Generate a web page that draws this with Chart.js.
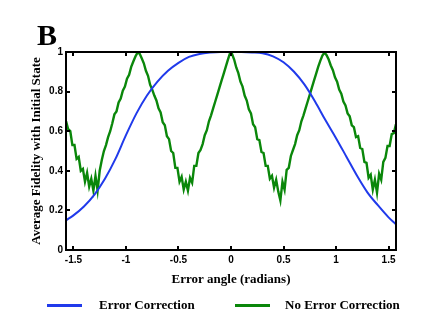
<!DOCTYPE html>
<html>
<head>
<meta charset="utf-8">
<script src="https://cdn.jsdelivr.net/npm/chart.js@4.4.1/dist/chart.umd.min.js"></script>
<style>
    html, body { margin: 0; padding: 0; background: #fff; }
    #wrap { position: relative; width: 431px; height: 333px; }
    #chart { position: absolute; left: 0; top: 0; }
    #panel { position: absolute; left: 37px; top: 20px; font: bold 30px/30px "Liberation Serif", serif; }
    .swatch { position: absolute; height: 3px; width: 35px; top: 304px; }
    .label { position: absolute; top: 297px; font: bold 13px/15px "Liberation Serif", serif; white-space: nowrap; }
</style>
</head>
<body>
<div id="wrap">
    <canvas id="chart" width="431" height="333"></canvas>
    <div id="panel">B</div>
    <div class="swatch" id="swBlue" style="left:47px"></div>
    <div class="label" style="left:99px">Error Correction</div>
    <div class="swatch" id="swGreen" style="left:235px"></div>
    <div class="label" style="left:285px">No Error Correction</div>
</div>
<script>
// ── Dados ─────────────────────────────────────────────────────────────────

const X_TICKS = [-1.5, -1, -0.5, 0, 0.5, 1, 1.5];
const Y_TICKS = [0, 0.2, 0.4, 0.6, 0.8, 1];

// Error Correction (azul)
const BLUE_X = [-1.57, -1.5, -1.4, -1.3, -1.2, -1.1, -1.0, -0.9, -0.8, -0.7, -0.6, -0.5, -0.4,
    -0.3, -0.2, -0.1, 0, 0.1, 0.2, 0.3, 0.4, 0.5, 0.6, 0.7, 0.8, 0.9, 1.0, 1.1, 1.2, 1.3, 1.4,
    1.5, 1.57];
const BLUE_Y = [0.15, 0.175, 0.22, 0.28, 0.36, 0.46, 0.58, 0.69, 0.78, 0.85, 0.905, 0.945, 0.975,
    0.99, 0.997, 1, 1, 1, 0.998, 0.994, 0.978, 0.948, 0.9, 0.835, 0.75, 0.655, 0.565, 0.47, 0.375,
    0.29, 0.225, 0.165, 0.13];

// No Error Correction (verde) — amostrado a cada 0.02 rad a partir de -1.57
const GREEN_X0 = -1.57;
const GREEN_DX = 0.02;
const GREEN_Y = [
    0.65, 0.61, 0.60, 0.53, 0.53, 0.46, 0.47, 0.40, 0.41, 0.345,
    0.39, 0.32, 0.36, 0.30, 0.375, 0.30, 0.40, 0.455, 0.50, 0.53,
    0.57, 0.60, 0.64, 0.685, 0.70, 0.745, 0.765, 0.805, 0.825, 0.865,
    0.885, 0.925, 0.952, 0.977, 0.997, 0.992, 0.968, 0.943, 0.905, 0.88,
    0.835, 0.81, 0.78, 0.755, 0.715, 0.695, 0.645, 0.63, 0.575, 0.56,
    0.50, 0.49, 0.415, 0.415, 0.345, 0.37, 0.305, 0.345, 0.30, 0.365,
    0.34, 0.425, 0.425, 0.49, 0.505, 0.535, 0.58, 0.605, 0.65, 0.68,
    0.715, 0.75, 0.785, 0.82, 0.855, 0.89, 0.925, 0.96, 0.993, 0.99,
    0.962, 0.922, 0.893, 0.85, 0.825, 0.78, 0.755, 0.71, 0.69, 0.635,
    0.62, 0.56, 0.555, 0.495, 0.49, 0.425, 0.425, 0.36, 0.375, 0.315,
    0.355, 0.295, 0.25, 0.345, 0.305, 0.405, 0.415, 0.475, 0.505, 0.535,
    0.58, 0.605, 0.65, 0.68, 0.715, 0.75, 0.785, 0.82, 0.855, 0.89,
    0.925, 0.955, 0.982, 0.997, 0.984, 0.962, 0.932, 0.908, 0.872, 0.85,
    0.81, 0.79, 0.75, 0.73, 0.69, 0.675, 0.63, 0.62, 0.57, 0.575,
    0.515, 0.51, 0.445, 0.44, 0.365, 0.38, 0.305, 0.355, 0.29, 0.385,
    0.355, 0.445, 0.465, 0.525, 0.525, 0.585, 0.59, 0.635
];

const COLORS = {
    blue: "rgb(32,58,235)",
    green: "rgb(10,135,10)"
};

// ── Helpers ───────────────────────────────────────────────────────────────

const SERIF = "'Liberation Serif', 'Times New Roman', serif";
const SANS = "'Liberation Sans', Arial, sans-serif";

document.getElementById("swBlue").style.background = COLORS.blue;
document.getElementById("swGreen").style.background = COLORS.green;

const bluePts = BLUE_X.map((x, i) => ({ x, y: BLUE_Y[i] }));
const greenPts = GREEN_Y.map((y, i) => ({ x: +(GREEN_X0 + i * GREEN_DX).toFixed(2), y }));

// moldura preta com ticks para dentro (estilo MATLAB)
const frame = {
    id: "frame",
    afterDatasetsDraw(chart) {
        const { ctx, chartArea: a, scales: { x, y } } = chart;
        const len = 4;
        ctx.save();
        ctx.strokeStyle = "#000";
        ctx.lineWidth = 2;
        ctx.beginPath();
        for (const v of X_TICKS) {
            const px = Math.round(x.getPixelForValue(v));
            ctx.moveTo(px, a.bottom); ctx.lineTo(px, a.bottom - len);
            ctx.moveTo(px, a.top);    ctx.lineTo(px, a.top + len);
        }
        for (const v of Y_TICKS) {
            const py = Math.round(y.getPixelForValue(v));
            ctx.moveTo(a.left, py);  ctx.lineTo(a.left + len, py);
            ctx.moveTo(a.right, py); ctx.lineTo(a.right - len, py);
        }
        ctx.stroke();
        ctx.strokeRect(a.left, a.top, a.right - a.left, a.bottom - a.top);
        ctx.restore();
    }
};

// ── Chart ─────────────────────────────────────────────────────────────────

new Chart(document.getElementById("chart"), {
    type: "line",
    data: {
        datasets: [
            {
                label: "Error Correction",
                data: bluePts,
                borderColor: COLORS.blue,
                borderWidth: 2,
                pointRadius: 0,
                cubicInterpolationMode: "monotone",
                fill: false
            },
            {
                label: "No Error Correction",
                data: greenPts,
                borderColor: COLORS.green,
                borderWidth: 2.4,
                pointRadius: 0,
                tension: 0,
                fill: false
            }
        ]
    },
    options: {
        responsive: false,
        animation: false,
        events: [],
        layout: { padding: { left: 29, top: 52, right: 35, bottom: 43 } },
        plugins: { legend: { display: false }, tooltip: { enabled: false } },
        scales: {
            x: {
                type: "linear",
                min: -Math.PI / 2,
                max: Math.PI / 2,
                grid: { display: false, drawTicks: false },
                border: { display: false },
                afterBuildTicks: s => { s.ticks = X_TICKS.map(v => ({ value: v })); },
                afterFit: s => { s.height = 40; },
                ticks: {
                    color: "#000",
                    padding: 4,
                    maxRotation: 0,
                    autoSkip: false,
                    font: { family: SANS, size: 10, weight: "bold" },
                    callback: v => String(v)
                },
                title: {
                    display: true,
                    text: "Error angle (radians)",
                    color: "#000",
                    padding: { top: 0, bottom: 3 },
                    font: { family: SERIF, size: 13, weight: "bold" }
                }
            },
            y: {
                min: 0,
                max: 1,
                grid: { display: false, drawTicks: false },
                border: { display: false },
                afterBuildTicks: s => { s.ticks = Y_TICKS.map(v => ({ value: v })); },
                afterFit: s => { s.width = 37; },
                ticks: {
                    color: "#000",
                    padding: 3,
                    font: { family: SANS, size: 10, weight: "bold" },
                    callback: v => String(v)
                },
                title: {
                    display: true,
                    text: "Average Fidelity with Initial State",
                    color: "#000",
                    padding: 0,
                    font: { family: SERIF, size: 13, weight: "bold" }
                }
            }
        }
    },
    plugins: [frame]
});
</script>
</body>
</html>
